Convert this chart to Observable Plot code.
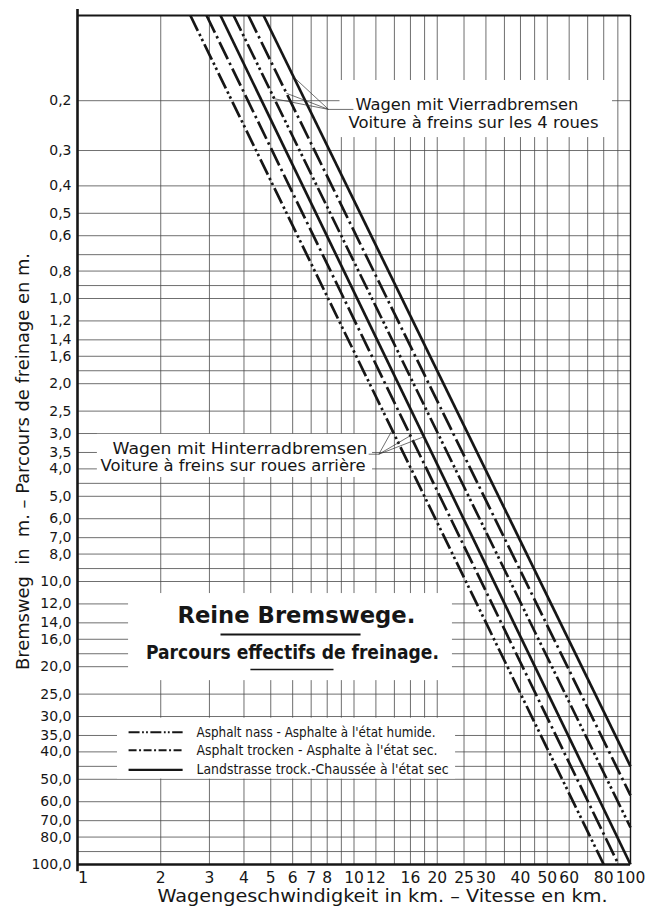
<!DOCTYPE html>
<html><head><meta charset="utf-8">
<script src="https://cdn.jsdelivr.net/npm/d3@7"></script>
<script src="https://cdn.jsdelivr.net/npm/@observablehq/plot@0.6"></script>
<style>
html,body{margin:0;padding:0;background:#fff;}
svg{display:block;}
</style>
</head><body><div id="chart"></div>
<script>
// ---------------- data ----------------
const seriesNames = [
  "Hinterradbremsen – Asphalt nass",
  "Hinterradbremsen – Asphalt trocken",
  "Hinterradbremsen – Landstrasse trock.",
  "Vierradbremsen – Asphalt nass",
  "Vierradbremsen – Asphalt trocken",
  "Vierradbremsen – Landstrasse trock."
];
const seriesSurface = ["nass", "trocken", "land", "nass", "trocken", "land"];
// speed (km/h) and braking distance (m) where each line enters / leaves the grid
const startSpeed    = [2.56, 2.93, 3.29, 3.67, 4.15, 4.71];
const startDistance = [0.1, 0.1, 0.1, 0.1, 0.1, 0.1];
const endSpeed      = [80, 90.5, 100, 100, 100, 100];
const endDistance   = [100, 100, 100, 74, 57, 45];

const xTickLabels = [1, 2, 3, 4, 5, 6, 7, 8, 10, 12, 16, 20, 25, 30, 40, 50, 60, 80, 100];
const xGridValues = [2, 3, 4, 5, 6, 7, 8, 9, 10, 12, 14, 16, 18, 20, 25, 30, 35, 40, 45, 50, 60, 70, 80, 90];
const yTickLabels = [0.2, 0.3, 0.4, 0.5, 0.6, 0.8, 1, 1.2, 1.4, 1.6, 2, 2.5, 3, 3.5, 4, 5, 6, 7, 8,
  10, 12, 14, 16, 20, 25, 30, 35, 40, 50, 60, 70, 80, 100];
const yGridValues = [0.2, 0.3, 0.4, 0.5, 0.6, 0.7, 0.8, 0.9,
  1, 1.2, 1.4, 1.6, 1.8, 2, 2.5, 3, 3.5, 4, 4.5, 5, 6, 7, 8, 9,
  10, 12, 14, 16, 18, 20, 25, 30, 35, 40, 45, 50, 60, 70, 80, 90];

const legendSurfaces = ["nass", "trocken", "land"];
const legendLabels = [
  "Asphalt nass - Asphalte à l'état humide.",
  "Asphalt trocken - Asphalte à l'état sec.",
  "Landstrasse trock.-Chaussée à l'état sec"
];

// ---------------- derived tables ----------------
const lineRows = seriesNames.flatMap((s, i) => [
  {series: s, surface: seriesSurface[i], v: startSpeed[i], d: startDistance[i]},
  {series: s, surface: seriesSurface[i], v: endSpeed[i], d: endDistance[i]}
]);
// point on series i (straight line in log-log space) at speed v
function onLine(i, v) {
  const t = (Math.log(v) - Math.log(startSpeed[i])) / (Math.log(endSpeed[i]) - Math.log(startSpeed[i]));
  return Math.exp(Math.log(startDistance[i]) + t * (Math.log(endDistance[i]) - Math.log(startDistance[i])));
}

// ---------------- layout / styles ----------------
const ink = "#161616";
const dashMain = {nass: "17,3.5,2.5,3,2.5,3.5", trocken: "19,4,2.5,4", land: null};
const dashLegend = {nass: "11,2.5,1.8,2.2,1.8,2.5", trocken: "8,2.5,2,2.5", land: null};
const font = "DejaVu Sans, Verdana, sans-serif";

const whiteBoxes = [
  {x1: 8.9, x2: 86.1, y1: 0.1697, y2: 0.27},   // Vierrad note
  {x1: 1.18, x2: 11.67, y1: 3.02, y2: 4.29},   // Hinterrad note
  {x1: 1.53, x2: 22.7, y1: 11.03, y2: 22.4},   // title
  {x1: 1.395, x2: 23.3, y1: 30.4, y2: 49.9}    // legend
];
const vHub = {v: 8.09, d: 0.2147};
const hHub = {v: 12.3, d: 3.55};
const leaders = [
  {x1: vHub.v, y1: vHub.d, x2: 9.95, y2: vHub.d},
  {x1: vHub.v, y1: vHub.d, x2: 6.05, y2: onLine(5, 6.05)},
  {x1: vHub.v, y1: vHub.d, x2: 5.7, y2: onLine(4, 5.7)},
  {x1: vHub.v, y1: vHub.d, x2: 5.15, y2: onLine(3, 5.15)},
  {x1: hHub.v, y1: hHub.d, x2: 11.3, y2: hHub.d},
  {x1: hHub.v, y1: hHub.d, x2: 13.75, y2: onLine(0, 13.75)},
  {x1: hHub.v, y1: hHub.d, x2: 16.0, y2: onLine(1, 16.0)},
  {x1: hHub.v, y1: hHub.d, x2: 17.9, y2: onLine(2, 17.9)}
];
const notes = [
  {t: "Wagen mit Vierradbremsen", x: 25.6, y: 0.2062},
  {t: "Voiture à freins sur les 4 roues", x: 27.05, y: 0.2396},
  {t: "Wagen mit Hinterradbremsen", x: 3.87, y: 3.386},
  {t: "Voiture à freins sur roues arrière", x: 3.65, y: 3.89}
];
const legendY = [34.1, 39.5, 46.3];
const legendRows = legendSurfaces.flatMap((s, i) => [
  {surface: s, v: 1.53, d: legendY[i]}, {surface: s, v: 2.40, d: legendY[i]}
]);
const legendText = legendLabels.map((t, i) => ({t, v: 2.694, d: legendY[i]}));

const fitWidths = {
  "Wagen mit Vierradbremsen": 223,
  "Voiture à freins sur les 4 roues": 250,
  "Wagen mit Hinterradbremsen": 255,
  "Voiture à freins sur roues arrière": 265,
  "Reine Bremswege.": 238,
  "Parcours effectifs de freinage.": 293,
  "Asphalt nass - Asphalte à l'état humide.": 239,
  "Asphalt trocken - Asphalte à l'état sec.": 241,
  "Landstrasse trock.-Chaussée à l'état sec": 252,
  "Wagengeschwindigkeit in km. – Vitesse en km.": 450,
  "Bremsweg  in  m. – Parcours de freinage en m.": 417
};

const fmtY = d => d3.format(".1f")(d).replace(".", ",");
const fmtX = d => String(d);

const marks = [
  // grid
  Plot.ruleX(xGridValues, {stroke: "#4a4a4a", strokeWidth: 0.8}),
  Plot.ruleY(yGridValues, {stroke: "#4a4a4a", strokeWidth: 0.8}),
  // white boxes behind texts
  Plot.rect(whiteBoxes, {x1: "x1", x2: "x2", y1: "y1", y2: "y2", fill: "white"}),
  // braking distance lines
  ...["nass", "trocken", "land"].map(s =>
    Plot.line(lineRows.filter(r => r.surface === s), {
      x: "v", y: "d", z: "series", stroke: ink, strokeWidth: 2.7,
      strokeDasharray: dashMain[s], strokeLinecap: "butt"
    })
  ),
  // leaders
  Plot.link(leaders, {x1: "x1", y1: "y1", x2: "x2", y2: "y2", stroke: "#333", strokeWidth: 0.7}),
  // notes
  Plot.text(notes, {x: "x", y: "y", text: "t", fontSize: 16, fill: ink, fontFamily: font}),
  // title
  Plot.text([{t: "Reine Bremswege.", x: 6.19, y: 13.25}], {x: "x", y: "y", text: "t", fontSize: 23, fontWeight: "bold", fill: ink, fontFamily: font}),
  Plot.text([{t: "Parcours effectifs de freinage.", x: 5.99, y: 17.77}], {x: "x", y: "y", text: "t", fontSize: 20, fontWeight: "bold", fill: ink, fontFamily: font}),
  Plot.link([{x1: 3.29, x2: 10.56, y: 15.4}], {x1: "x1", x2: "x2", y1: "y", y2: "y", stroke: ink, strokeWidth: 2}),
  Plot.link([{x1: 4.22, x2: 8.43, y: 20.46}], {x1: "x1", x2: "x2", y1: "y", y2: "y", stroke: ink, strokeWidth: 1.6}),
  // legend
  ...legendSurfaces.map(s =>
    Plot.line(legendRows.filter(r => r.surface === s), {
      x: "v", y: "d", stroke: ink, strokeWidth: s === "land" ? 2.4 : 2,
      strokeDasharray: dashLegend[s], strokeLinecap: "butt"
    })
  ),
  Plot.text(legendText, {x: "v", y: "d", text: "t", textAnchor: "start", fontSize: 13.5, fill: ink, fontFamily: font}),
  // frame
  Plot.ruleX([{v: 1, a: 0.0952, b: 106}], {x: "v", y1: "a", y2: "b", stroke: ink, strokeWidth: 2.6}),
  Plot.ruleY([{d: 100, a: 1, b: 100}], {y: "d", x1: "a", x2: "b", stroke: ink, strokeWidth: 2.6}),
  Plot.ruleY([{d: 0.1, a: 1, b: 100}], {y: "d", x1: "a", x2: "b", stroke: ink, strokeWidth: 2}),
  Plot.ruleX([{v: 100, a: 0.1, b: 100}], {x: "v", y1: "a", y2: "b", stroke: ink, strokeWidth: 1.4}),
  // y axis labels
  Plot.axisY(yTickLabels, {tickSize: 0, tickPadding: 6, tickFormat: fmtY, fontSize: 14, label: null, fill: ink, fontFamily: font}),
  // x axis labels (text marks so that every listed label is shown)
  Plot.text(xTickLabels.slice(0, 1), {x: d => d, text: fmtX, frameAnchor: "bottom", lineAnchor: "top", dx: 5.5, dy: 7, fontSize: 16, fill: ink, fontFamily: font}),
  Plot.text(xTickLabels.slice(1), {x: d => d, text: fmtX, frameAnchor: "bottom", lineAnchor: "top", dy: 7, fontSize: 15.5, fill: ink, fontFamily: font, ariaLabel: "x-tick-labels"}),
  // axis titles
  Plot.text(["Wagengeschwindigkeit in km. – Vitesse en km."], {frameAnchor: "bottom", textAnchor: "middle", lineAnchor: "middle", dx: 28.5, dy: 32.5, fontSize: 17, fill: ink, fontFamily: font}),
  Plot.text(["Bremsweg  in  m. – Parcours de freinage en m."], {frameAnchor: "left", textAnchor: "middle", lineAnchor: "middle", rotate: -90, dx: -54.4, dy: 21.5, fontSize: 17, fill: ink, fontFamily: font})
];

const chart = Plot.plot({
  width: 651,
  height: 911,
  marginLeft: 77,
  marginRight: 21,
  marginTop: 15,
  marginBottom: 47,
  style: {background: "white", fontFamily: font, fontSize: "14px", color: ink},
  x: {type: "log", domain: [1, 100], label: null, axis: null},
  y: {type: "log", domain: [0.1, 100], reverse: true, label: null},
  marks
});

// narrow lettering as in the original drawing
d3.select(chart).selectAll("text").each(function () {
  const w = fitWidths[this.textContent];
  if (w) {
    this.setAttribute("textLength", w);
    this.setAttribute("lengthAdjust", "spacingAndGlyphs");
    this.style.whiteSpace = "pre";
  }
});
d3.select(chart).selectAll('g[aria-label="x-tick-labels"] text').each(function () {
  const n = this.textContent.length;
  if (n > 1) {
    this.setAttribute("textLength", n === 2 ? 14 : 18);
    this.setAttribute("lengthAdjust", "spacingAndGlyphs");
  }
});
document.getElementById("chart").appendChild(chart);
</script>
</body></html>
